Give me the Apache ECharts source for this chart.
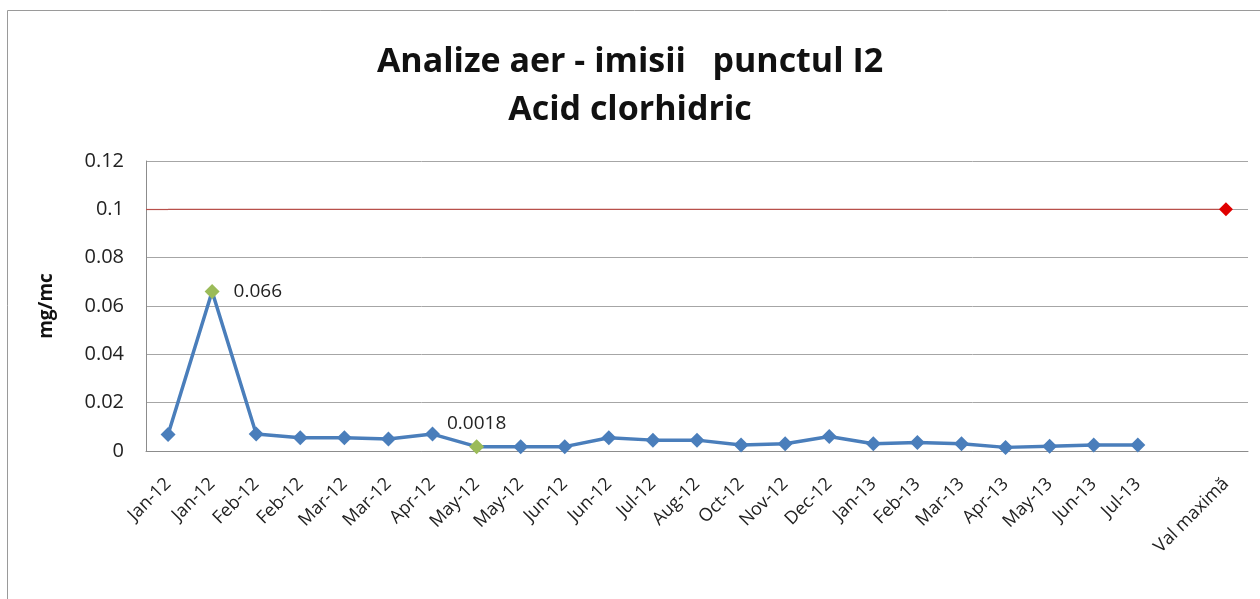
<!DOCTYPE html>
<html>
<head>
<meta charset="utf-8">
<script src="https://cdn.jsdelivr.net/npm/echarts@6/dist/echarts.min.js"></script>
<style>
  html, body { margin: 0; padding: 0; background: #fff; }
  #main { width: 1260px; height: 599px; }
</style>
</head>
<body>
<div id="main"></div>
<script>
// categorii (ultima coloana goala inainte de valoarea maxima)
const categories = ['Jan-12', 'Jan-12', 'Feb-12', 'Feb-12', 'Mar-12', 'Mar-12', 'Apr-12', 'May-12',
  'May-12', 'Jun-12', 'Jun-12', 'Jul-12', 'Aug-12', 'Oct-12', 'Nov-12', 'Dec-12', 'Jan-13',
  'Feb-13', 'Mar-13', 'Apr-13', 'May-13', 'Jun-13', 'Jul-13', '', 'Val maximă'];
const valori = [0.0068, 0.066, 0.007, 0.0055, 0.0055, 0.005, 0.007, 0.0018,
  0.0018, 0.0018, 0.0055, 0.0045, 0.0045, 0.0025, 0.003, 0.006, 0.003,
  0.0035, 0.003, 0.0015, 0.002, 0.0025, 0.0025, null, null];
const valMaxima = 0.1;
const puncteEvidentiate = [1, 7]; // puncte verzi cu eticheta
const yTicks = [0, 0.02, 0.04, 0.06, 0.08, 0.1, 0.12];

const font = '"Open Sans", sans-serif';
const lastIdx = categories.length - 1;
const redLine = '#b8504b';

const dateSerie = valori.map((v, i) => {
  if (puncteEvidentiate.indexOf(i) < 0) return v;
  return {
    value: v,
    itemStyle: { color: '#9bbb59' },
    label: {
      show: true,
      position: i === 1 ? 'right' : 'top',
      distance: i === 1 ? 14 : 6,
      formatter: String(v),
      color: '#222',
      fontSize: 19,
      fontFamily: font
    }
  };
});

const dateMax = categories.map(() => valMaxima);

var myChart = echarts.init(document.getElementById('main'));
var option = {
  animation: false,
  backgroundColor: '#fff',
  graphic: [{
    type: 'rect',
    shape: { x: 7.5, y: 10.5, width: 1300, height: 700 },
    style: { fill: 'none', stroke: '#9a9a9a', lineWidth: 1 },
    z: -1
  }],
  title: {
    text: 'Analize aer - imisii   punctul I2\nAcid clorhidric',
    left: 'center',
    top: 33,
    textStyle: {
      fontFamily: font,
      fontWeight: 'bold',
      fontSize: 34,
      lineHeight: 48,
      color: '#111'
    }
  },
  grid: { left: 146, right: 12, top: 161, bottom: 148 },
  xAxis: {
    type: 'category',
    data: categories,
    boundaryGap: true,
    axisLine: { lineStyle: { color: '#8c8c8c' } },
    axisTick: { show: false },
    axisLabel: {
      rotate: 45,
      interval: 0,
      margin: 30,
      color: '#222',
      fontSize: 18,
      fontFamily: font
    }
  },
  yAxis: {
    type: 'value',
    min: 0,
    max: 0.12,
    interval: 0.02,
    name: 'mg/mc',
    nameLocation: 'middle',
    nameGap: 90,
    nameTextStyle: { fontFamily: font, fontWeight: 'bold', fontSize: 19, color: '#111' },
    axisLine: { show: true, lineStyle: { color: '#8c8c8c' } },
    axisTick: { show: false },
    splitLine: { lineStyle: { color: '#a6a6a6' } },
    axisLabel: {
      color: '#222',
      fontSize: 20,
      fontFamily: font,
      margin: 22,
      formatter: v => String(yTicks.find(t => Math.abs(t - v) < 1e-9) ?? v)
    }
  },
  series: [
    {
      name: 'Val maxima',
      type: 'line',
      data: dateMax,
      lineStyle: { color: redLine, width: 1.2 },
      itemStyle: { color: '#e00000' },
      symbol: 'diamond',
      symbolSize: (v, p) => p.dataIndex === lastIdx ? 14 : 0,
      z: 4
    },
    {
      name: 'HCl',
      type: 'line',
      data: dateSerie,
      lineStyle: { color: '#4a7ebb', width: 3.5 },
      itemStyle: { color: '#4a7ebb' },
      symbol: 'diamond',
      symbolSize: 15,
      connectNulls: false,
      z: 3,
      markLine: {
        silent: true,
        symbol: 'none',
        label: { show: false },
        lineStyle: { color: redLine, width: 1.2, type: 'solid' },
        data: [[
          { xAxis: 0, yAxis: valMaxima, x: 146 },
          { xAxis: 0, yAxis: valMaxima }
        ]]
      }
    }
  ]
};
myChart.setOption(option);
</script>
</body>
</html>
